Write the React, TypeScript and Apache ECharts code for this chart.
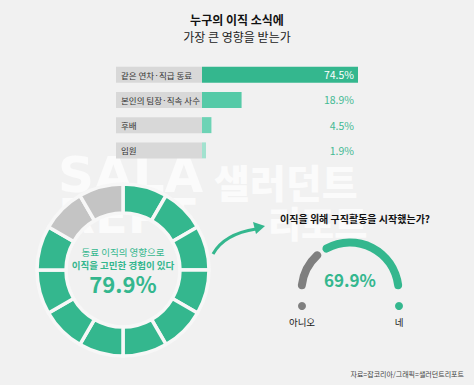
import React, { useEffect, useRef } from "react";
import * as echarts from "echarts";

const categories = ["같은 연차·직급 동료", "본인의 팀장·직속 사수", "후배", "임원"];
const values = [74.5, 18.9, 4.5, 1.9];
const barColors = ["#34b78e", "#55caa7", "#6dd3b5", "#a2e2cf"];

const donutValue = 79.9;
const donutSegmentCount = 12;

const gaugeLabels = ["아니오", "네"];
const gaugeValues = [30.1, 69.9];
const gaugeColors = ["#7f7f7f", "#34b78e"];

const FONT = "'Noto Sans CJK KR', 'Noto Sans', sans-serif";
const TEAL = "#34b78e";

export default function App() {
  const ref = useRef<HTMLDivElement>(null);
  useEffect(() => {
    document.body.style.margin = "0";
    if (!ref.current) return;
    const chart = echarts.init(ref.current, null, { renderer: "svg" });
    const maxVal = Math.max(...values);
    const filled = Math.round((donutValue / 100) * donutSegmentCount);
    const donutData = Array.from({ length: donutSegmentCount }, (_, i) => ({
      value: 1,
      itemStyle: { color: i < filled ? TEAL : "#c4c4c4" },
    }));

    chart.setOption({
      animation: false,
      backgroundColor: "#f1f1f1",
      textStyle: { fontFamily: FONT },
      grid: { left: 202, width: 156, top: 62, height: 101 },
      xAxis: { type: "value", min: 0, max: maxVal, show: false },
      yAxis: {
        type: "category",
        inverse: true,
        data: categories,
        axisLine: { show: false },
        axisTick: { show: false },
        axisLabel: {
          margin: 86,
          align: "left",
          width: 81,
          height: 16,
          lineHeight: 16,
          padding: [0, 0, 0, 5],
          backgroundColor: "#d8d8d8",
          color: "#333",
          fontSize: 8.5,
          fontFamily: FONT,
        },
      },
      graphic: [
        // watermark
        { type: "text", x: 58, y: 200, silent: true, style: { text: "SALA", fill: "#fbfbfb", font: `bold 50px 'DejaVu Sans', sans-serif`, verticalAlign: "bottom" }, z: 0 },
        { type: "text", x: 214, y: 200, silent: true, style: { text: "샐러던트", fill: "#fbfbfb", font: `900 39px ${FONT}`, verticalAlign: "bottom" }, z: 0 },
        { type: "text", x: 58, y: 240, silent: true, style: { text: "REPT", fill: "#fbfbfb", font: `bold 48px 'DejaVu Sans', sans-serif`, verticalAlign: "bottom" }, z: 0 },
        { type: "text", x: 268, y: 240, silent: true, style: { text: "리포트", fill: "#fbfbfb", font: `900 36px ${FONT}`, verticalAlign: "bottom" }, z: 0 },
        // titles
        { type: "text", x: 237, y: 19, style: { text: "누구의 이직 소식에", fill: "#111", font: `bold 12px ${FONT}`, align: "center", verticalAlign: "middle" } },
        { type: "text", x: 237, y: 36, style: { text: "가장 큰 영향을 받는가", fill: "#222", font: `12px ${FONT}`, align: "center", verticalAlign: "middle" } },
        // donut center
        { type: "text", x: 123, y: 252, z: 10, style: { text: "동료 이직의 영향으로", fill: TEAL, font: `9.5px ${FONT}`, align: "center", verticalAlign: "middle" } },
        { type: "text", x: 123, y: 265, z: 10, style: { text: "이직을 고민한 경험이 있다", fill: TEAL, font: `bold 9.5px ${FONT}`, align: "center", verticalAlign: "middle" } },
        { type: "text", x: 123, y: 283, z: 10, style: { text: donutValue.toFixed(1) + "%", fill: TEAL, font: `bold 22px ${FONT}`, align: "center", verticalAlign: "middle" } },
        // arrow
        { type: "bezierCurve", z: 10, shape: { x1: 213, y1: 254, cpx1: 224, cpy1: 234, x2: 256, y2: 229 }, style: { stroke: TEAL, lineWidth: 3, fill: "none" } },
        { type: "polygon", z: 10, shape: { points: [[265, 226], [253, 222], [256, 234]] }, style: { fill: TEAL } },
        // second title
        { type: "text", x: 355, y: 218, z: 10, style: { text: "이직을 위해 구직활동을 시작했는가?", fill: "#111", font: `bold 10px ${FONT}`, align: "center", verticalAlign: "middle" } },
        { type: "text", x: 350, y: 279, z: 10, style: { text: gaugeValues[1].toFixed(1) + "%", fill: TEAL, font: `bold 17px ${FONT}`, align: "center", verticalAlign: "middle" } },
        { type: "circle", z: 10, shape: { cx: 302, cy: 306, r: 4 }, style: { fill: gaugeColors[0] } },
        { type: "circle", z: 10, shape: { cx: 399, cy: 306, r: 4 }, style: { fill: gaugeColors[1] } },
        { type: "text", x: 302, y: 322, z: 10, style: { text: gaugeLabels[0], fill: "#222", font: `9.5px ${FONT}`, align: "center", verticalAlign: "middle" } },
        { type: "text", x: 399, y: 322, z: 10, style: { text: gaugeLabels[1], fill: "#222", font: `9.5px ${FONT}`, align: "center", verticalAlign: "middle" } },
        // source
        { type: "text", x: 464, y: 374, z: 10, style: { text: "자료=잡코리아/그래픽=샐러던트리포트", fill: "#444", font: `7px ${FONT}`, align: "right", verticalAlign: "middle" } },
      ],
      series: [
        {
          type: "bar",
          barWidth: 16,
          z: 3,
          data: values.map((v, i) => ({ value: v, itemStyle: { color: barColors[i] } })),
        },
        {
          type: "bar",
          barWidth: 16,
          barGap: "-100%",
          z: 4,
          silent: true,
          itemStyle: { color: "transparent" },
          data: values.map((_, i) =>
            i === 0 ? { value: maxVal, label: { color: "#ffffff" } } : { value: maxVal }
          ),
          label: {
            show: true,
            position: "insideRight",
            distance: 4,
            fontSize: 10.5,
            fontFamily: FONT,
            formatter: (p: any) => values[p.dataIndex].toFixed(1) + "%",
            color: "#43b993",
          },
        },
        {
          type: "pie",
          center: [123, 270],
          radius: [57, 86],
          startAngle: 90,
          clockwise: true,
          silent: true,
          z: 5,
          label: { show: false },
          labelLine: { show: false },
          itemStyle: { borderColor: "#f7f7f7", borderWidth: 3.5 },
          data: donutData,
        },
        {
          type: "pie",
          center: [350, 291],
          radius: [44.5, 52.5],
          startAngle: 180,
          clockwise: true,
          silent: true,
          padAngle: 4,
          z: 5,
          label: { show: false },
          labelLine: { show: false },
          itemStyle: { borderRadius: 4 },
          data: [
            ...gaugeValues.map((v, i) => ({ value: v, name: gaugeLabels[i], itemStyle: { color: gaugeColors[i] } })),
            { value: gaugeValues[0] + gaugeValues[1], name: "", itemStyle: { color: "transparent" } },
          ],
        },
      ],
    });
    return () => chart.dispose();
  }, []);
  return <div ref={ref} style={{ width: 474, height: 385 }} />;
}
